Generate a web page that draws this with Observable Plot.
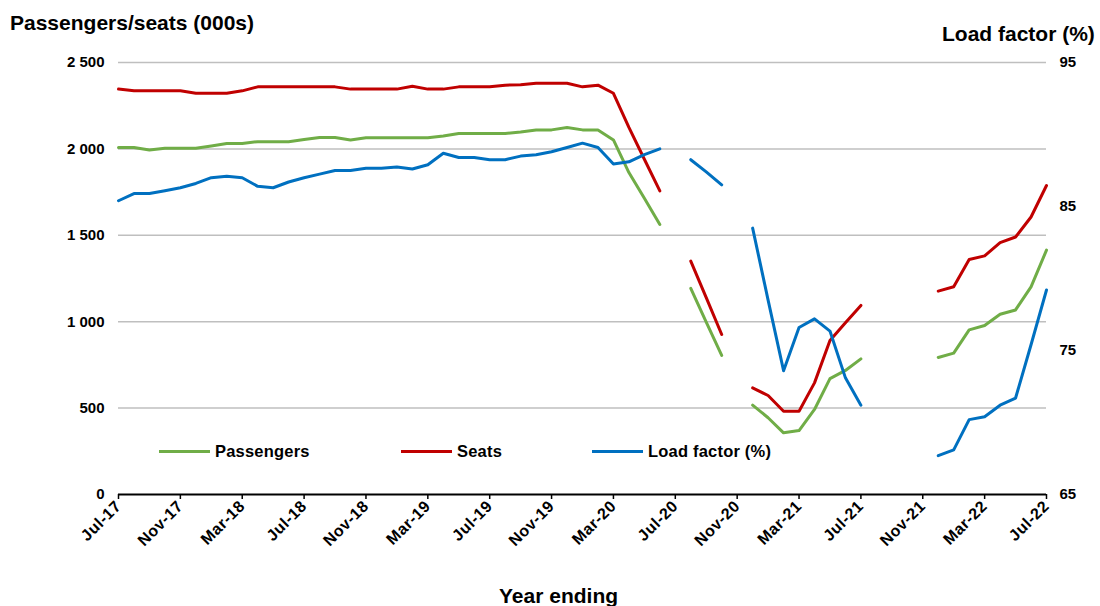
<!DOCTYPE html>
<html>
<head>
<meta charset="utf-8">
<script src="https://cdn.jsdelivr.net/npm/d3@7"></script>
<script src="https://cdn.jsdelivr.net/npm/@observablehq/plot@0.6"></script>
<style>
  html, body { margin: 0; padding: 0; background: #fff; }
  #wrap { position: relative; width: 1100px; height: 606px; font-family: "Liberation Sans", Arial, sans-serif; font-weight: bold; color: #000; }
  .ttl { position: absolute; font-size: 21px; white-space: nowrap; line-height: 1; }
  .leg { position: absolute; top: 443px; font-size: 16.5px; letter-spacing: 0.2px; white-space: nowrap; line-height: 1; display: flex; align-items: center; }
  .leg span.sw { display: inline-block; width: 51px; height: 3px; margin-right: 5px; }
  g[aria-label="x-axis tick label"] text { font-size: 16px; letter-spacing: 0.5px; }
  g[aria-label="y-axis tick label"] text { font-size: 15px; }
</style>
</head>
<body>
<div id="wrap">
  <div id="chart"></div>
  <div class="ttl" style="left:10px; top:12px;">Passengers/seats (000s)</div>
  <div class="ttl" style="left:942px; top:23px;">Load factor (%)</div>
  <div class="ttl" style="left:499px; top:585px;">Year ending</div>
  <div id="legend"></div>
</div>
<script>
// Monthly data, Jul-17 (index 0) to Jul-22 (index 60); null = no data
const passengers = [
  2008, 2008, 1994, 2004, 2004, 2004, 2017, 2031, 2031, 2042, 2042, 2042,
  2054, 2066, 2066, 2052, 2064, 2064, 2064, 2064, 2064, 2075, 2089, 2089,
  2089, 2089, 2098, 2110, 2110, 2124, 2110, 2110, 2052, 1863, 1714, 1563,
  null, 1193, 998, 805, null, 517, 444, 357, 370, 492, 671, 718,
  785, null, null, null, null, 793, 818, 953, 978, 1043, 1068, 1202,
  1414
];
const seats = [
  2346, 2336, 2336, 2336, 2336, 2322, 2322, 2322, 2336, 2359, 2359, 2359,
  2359, 2359, 2359, 2346, 2346, 2346, 2346, 2363, 2346, 2346, 2359, 2359,
  2359, 2369, 2371, 2380, 2380, 2380, 2359, 2369, 2322, 2125, 1940, 1757,
  null, 1351, 1139, 926, null, 617, 573, 482, 482, 646, 891, 994,
  1094, null, null, null, null, 1177, 1202, 1360, 1381, 1458, 1490, 1606,
  1788
];
const loadFactor = [
  85.4, 85.9, 85.9, 86.1, 86.3, 86.6, 87.0, 87.1, 87.0, 86.4, 86.3, 86.7,
  87.0, 87.25, 87.5, 87.5, 87.65, 87.65, 87.75, 87.6, 87.9, 88.7, 88.4, 88.4,
  88.25, 88.25, 88.5, 88.6, 88.8, 89.1, 89.4, 89.1, 87.95, 88.1, 88.6, 89.0,
  null, 88.25, 87.4, 86.5, null, 83.5, 78.5, 73.6, 76.6, 77.2, 76.35, 73.1,
  71.2, null, null, null, null, 67.7, 68.1, 70.2, 70.4, 71.2, 71.7, 75.4,
  79.2
];
const xTickLabels = ["Jul-17","Nov-17","Mar-18","Jul-18","Nov-18","Mar-19","Jul-19","Nov-19",
  "Mar-20","Jul-20","Nov-20","Mar-21","Jul-21","Nov-21","Mar-22","Jul-22"];
const leftTicks = [0, 500, 1000, 1500, 2000, 2500];
const rightTicks = [65, 75, 85, 95];
const series = ["Passengers", "Seats", "Load factor (%)"];
const colors = ["#70AD47", "#C00000", "#0070C0"];

const lfMin = 65, lfMax = 95, yMax = 2500;
const lfToLeft = v => (v - lfMin) * yMax / (lfMax - lfMin);
const leftToLf = v => Math.round(lfMin + v * (lfMax - lfMin) / yMax);

const rows = passengers.map((p, i) => ({
  i,
  p,
  s: seats[i],
  lf: loadFactor[i] == null ? null : lfToLeft(loadFactor[i])
}));

const chart = Plot.plot({
  width: 1100,
  height: 606,
  marginLeft: 118,
  marginRight: 54,
  marginTop: 62,
  marginBottom: 112,
  x: {domain: [0, 60]},
  y: {domain: [0, yMax]},
  style: {fontFamily: "'Liberation Sans', Arial, sans-serif", fontWeight: "bold", fontSize: "14px", color: "#000", background: "#fff"},
  marks: [
    Plot.gridY(leftTicks.filter(d => d > 0), {stroke: "#bfbfbf", strokeOpacity: 1, strokeWidth: 1.5}),
    Plot.axisY({ticks: leftTicks, tickSize: 0, tickPadding: 14, label: null,
      tickFormat: d => d3.format(",")(d).replace(/,/g, " ")}),
    Plot.axisY({anchor: "right", ticks: rightTicks.map(lfToLeft), tickSize: 0, tickPadding: 13, label: null,
      tickFormat: d => String(leftToLf(d))}),
    Plot.axisX({ticks: xTickLabels.map((_, k) => k * 4), tickSize: 5, tickPadding: 4, tickRotate: -45, label: null,
      tickFormat: d => xTickLabels[Math.round(d / 4)], strokeWidth: 1.5}),
    Plot.ruleY([0], {stroke: "#000", strokeWidth: 2}),
    Plot.line(rows, {x: "i", y: "p", stroke: colors[0], strokeWidth: 3}),
    Plot.line(rows, {x: "i", y: "s", stroke: colors[1], strokeWidth: 3}),
    Plot.line(rows, {x: "i", y: "lf", stroke: colors[2], strokeWidth: 3})
  ]
});
document.getElementById("chart").appendChild(chart);

// Legend (inside plot area)
const legPos = [159, 401, 592];
const legend = document.getElementById("legend");
series.forEach((name, k) => {
  const d = document.createElement("div");
  d.className = "leg";
  d.style.left = legPos[k] + "px";
  d.innerHTML = `<span class="sw" style="background:${colors[k]}"></span>${name}`;
  legend.appendChild(d);
});
</script>
</body>
</html>
